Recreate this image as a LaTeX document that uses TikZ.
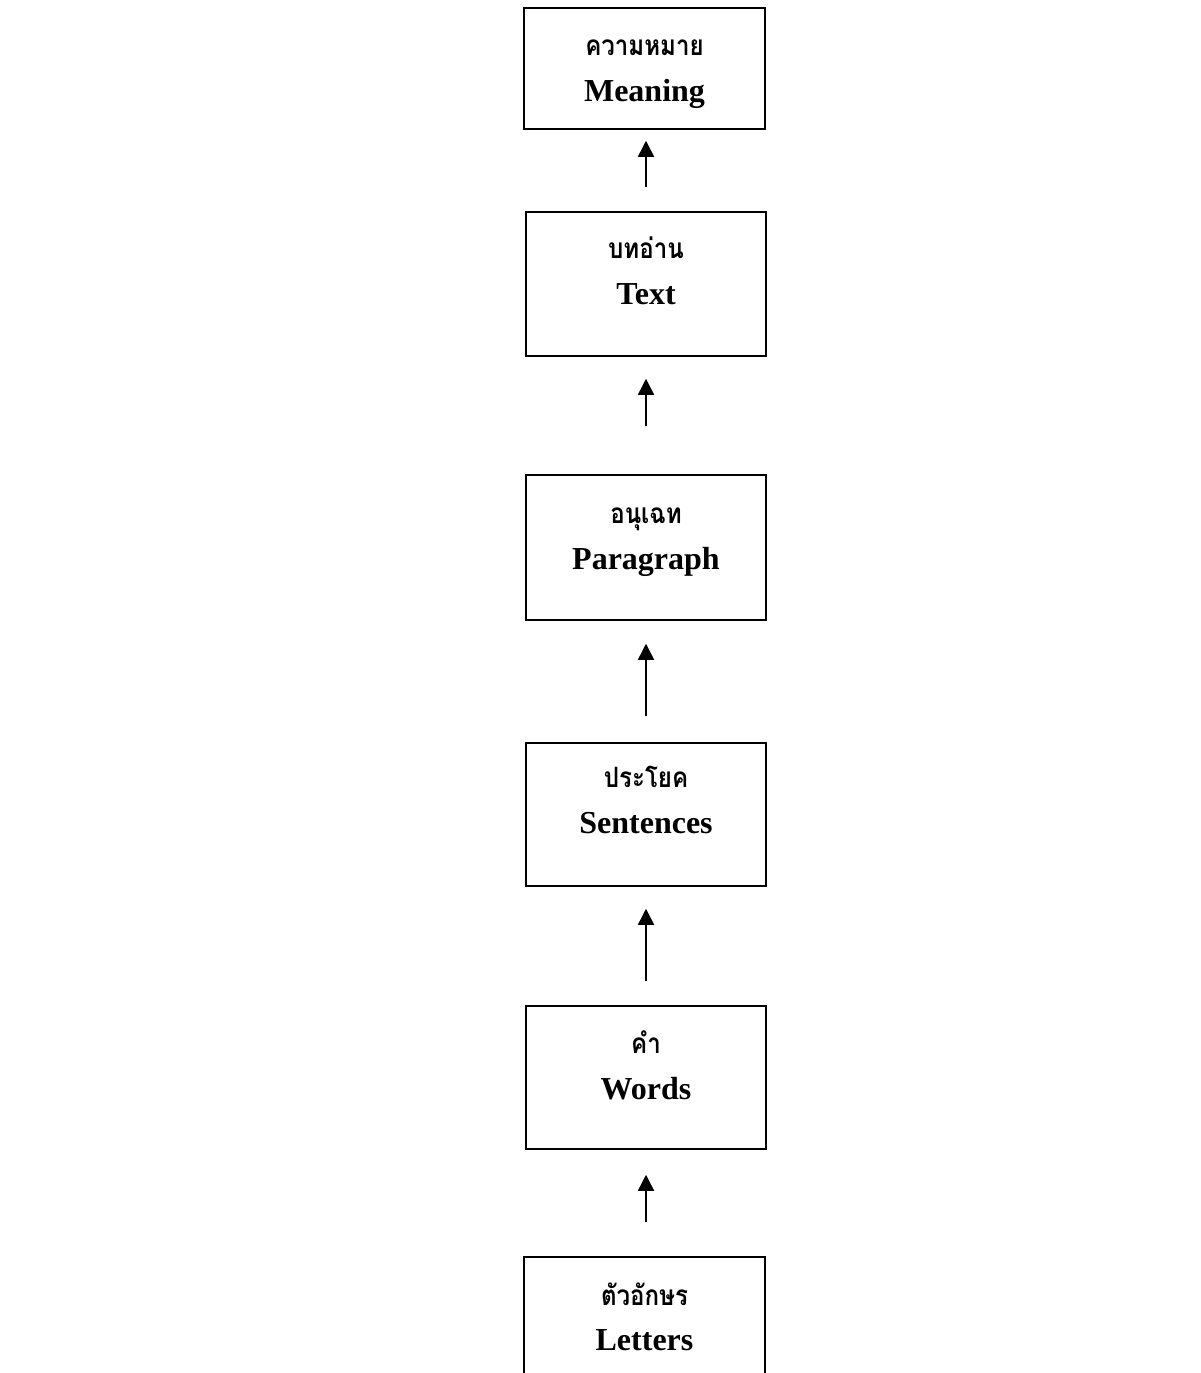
\documentclass[tikz,border=0pt]{standalone}
\usepackage{fontspec}
\setmainfont{Liberation Serif}
\newfontfamily\thaifont[Script=Thai]{Loma}
\usetikzlibrary{arrows.meta}
\newcommand{\thaitxt}[1]{\scalebox{0.86}[1]{#1}}
\tikzset{
  box/.style={draw, line width=1.5pt, rectangle, inner sep=0pt, minimum width=240pt},
  openbox/.style={draw=none, rectangle, inner sep=0pt, minimum width=241pt},
  thai/.style={anchor=base, inner sep=0pt, font=\thaifont\bfseries\fontsize{28}{32}\selectfont},
  eng/.style={anchor=base, inner sep=0pt, font=\bfseries\fontsize{32}{38}\selectfont},
  arr/.style={line width=1.5pt, -{Triangle[width=16pt,length=16pt]}}
}
\begin{document}
\begin{tikzpicture}[x=1pt,y=-1pt]
\useasboundingbox (0,0) rectangle (1200,1373);
% boxes
\node[box, minimum width=241pt, minimum height=121pt] (b1) at (644.5,68.5) {};
\node[box, minimum height=144pt] (b2) at (646,284) {};
\node[box, minimum height=145pt] (b3) at (646,547.5) {};
\node[box, minimum height=143pt] (b4) at (646,814.5) {};
\node[box, minimum height=143pt] (b5) at (646,1077.5) {};
\node[openbox, minimum height=130pt] (b6) at (644.5,1322) {};
\draw[line width=1.5pt] (b6.south west) -- (b6.north west) -- (b6.north east) -- (b6.south east);
% texts
\node[thai] (t1) at (644.5,55) {\thaitxt{ความหมาย}};
\node[eng] (e1) at (644.5,101) {Meaning};
\node[thai] (t2) at (646,258) {\thaitxt{บทอ่าน}};
\node[eng] (e2) at (646,304) {Text};
\node[thai] (t3) at (646,523) {\thaitxt{อนุเฉท}};
\node[eng] (e3) at (646,569) {Paragraph};
\node[thai] (t4) at (646,787) {\thaitxt{ประโยค}};
\node[eng] (e4) at (646,833) {Sentences};
\node[thai] (t5) at (646,1053) {\thaitxt{คำ}};
\node[eng] (e5) at (646,1099) {Words};
\node[thai] (t6) at (644.5,1305) {\thaitxt{ตัวอักษร}};
\node[eng] (e6) at (644.5,1350) {Letters};
% arrows
\draw[arr, shorten <=24pt, shorten >=11pt] (b2.north) -- (b1.south -| b2.north);
\draw[arr, shorten <=48pt, shorten >=22pt] (b3.north) -- (b2.south);
\draw[arr, shorten <=26pt, shorten >=23pt] (b4.north) -- (b3.south);
\draw[arr, shorten <=24pt, shorten >=22pt] (b5.north) -- (b4.south);
\draw[arr, shorten <=35pt, shorten >=25pt] (b6.north -| b5.north) -- (b5.south);
\end{tikzpicture}
\end{document}
